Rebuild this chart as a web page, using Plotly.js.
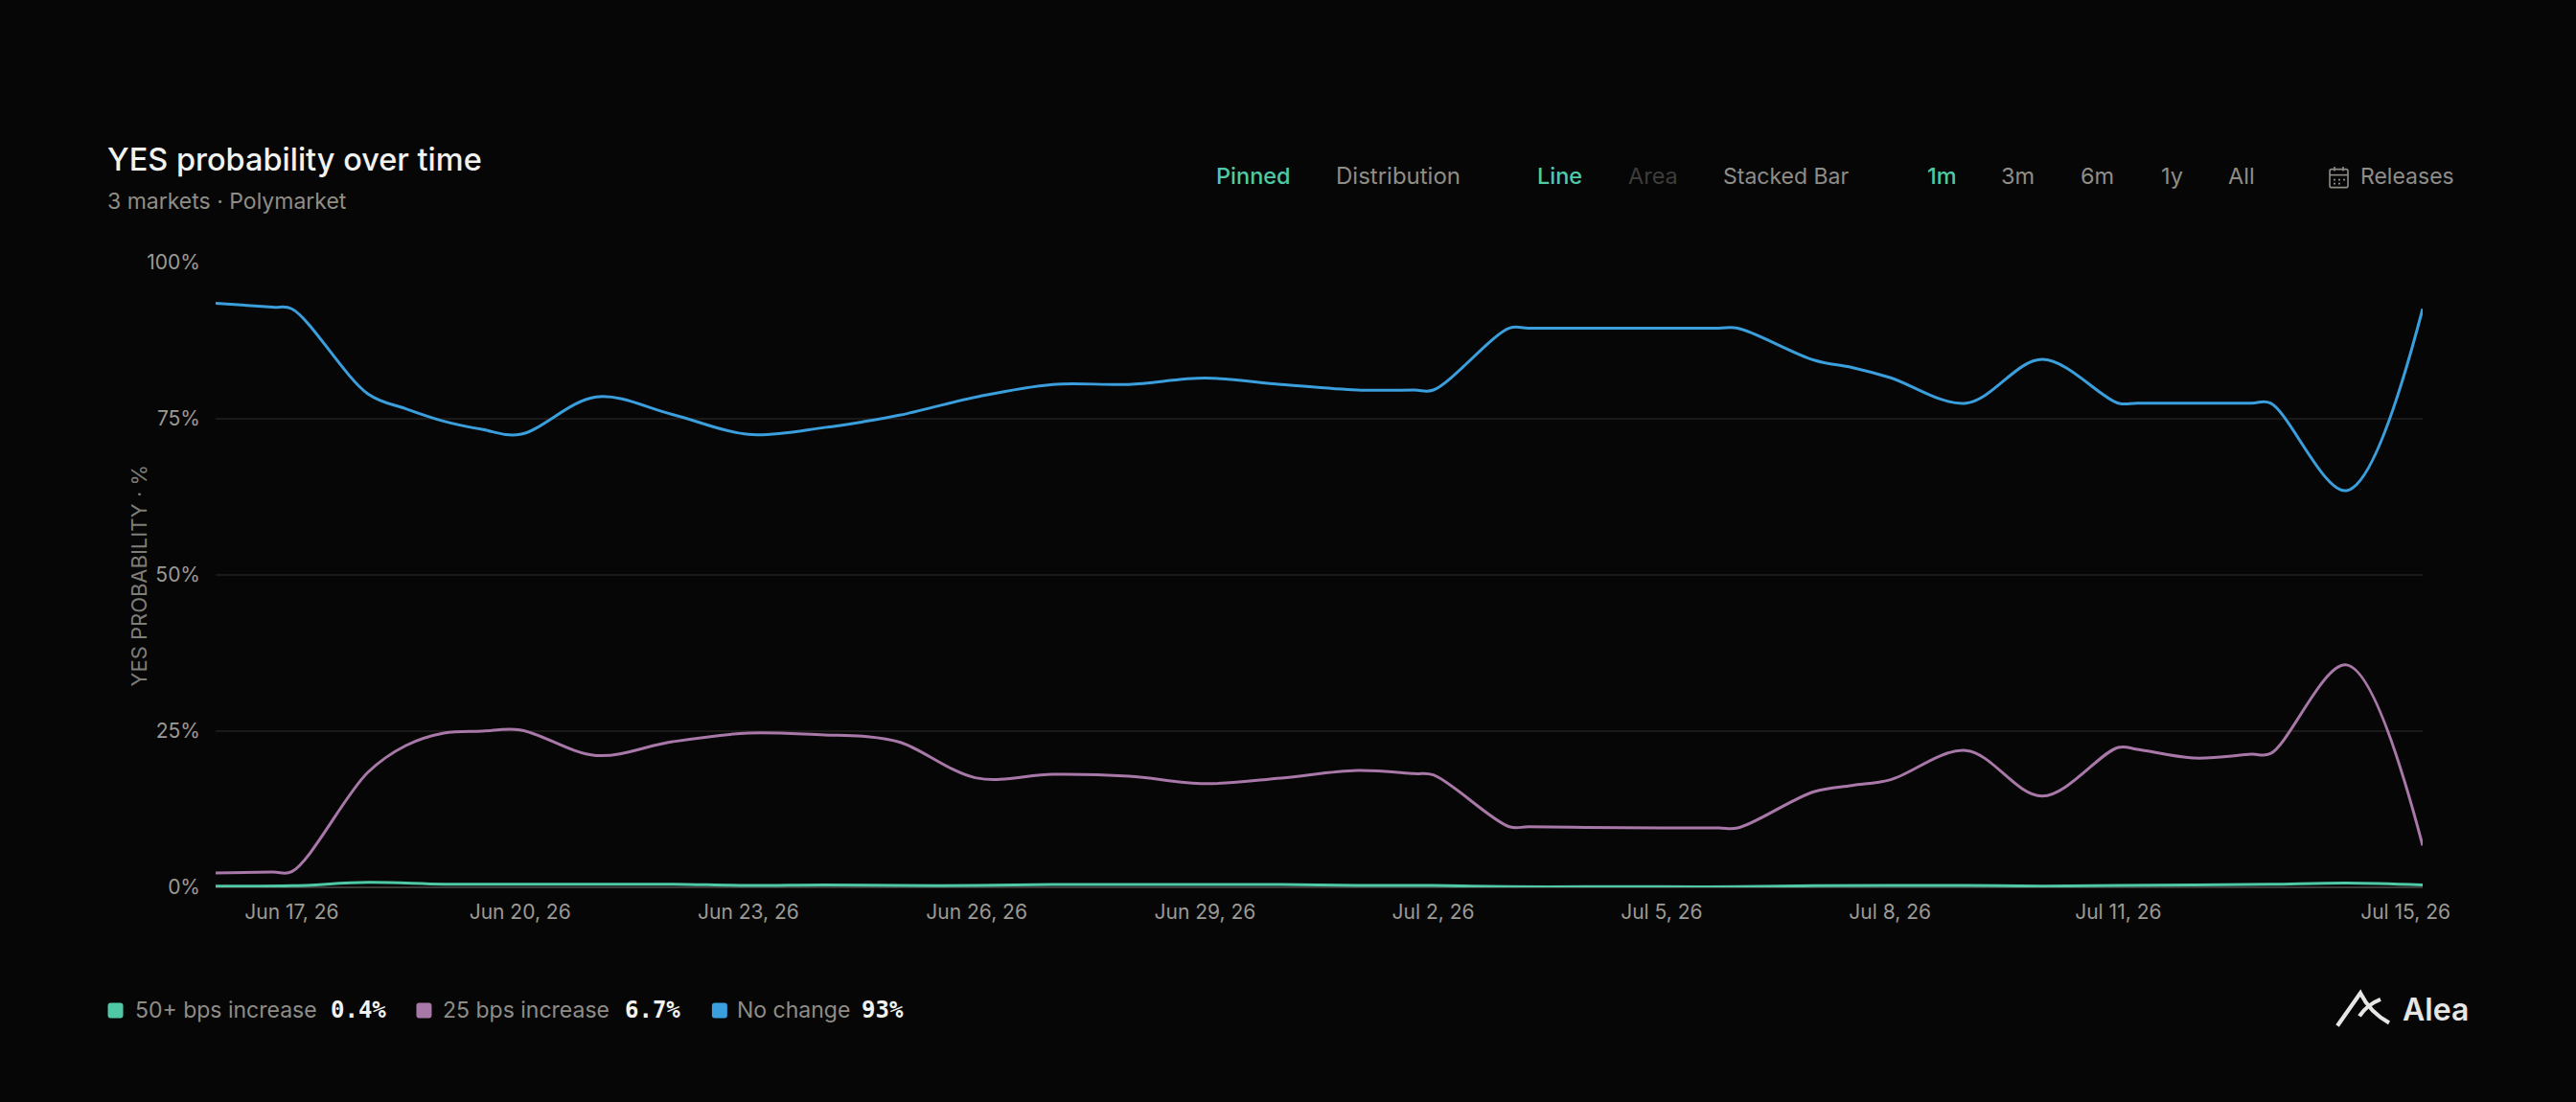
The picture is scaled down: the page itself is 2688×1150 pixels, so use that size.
<!DOCTYPE html>
<html>
<head>
<meta charset="utf-8">
<title>YES probability over time</title>
<script src="https://cdn.plot.ly/plotly-3.0.1.min.js"></script>
<style>
    html, body { margin: 0; padding: 0; background: #060606; overflow: hidden; }
    #chart { width: 2688px; height: 1150px; }
</style>
</head>
<body>
<div id="chart"></div>
<script>
const dates = ['2026-06-16', '2026-06-17', '2026-06-18', '2026-06-19', '2026-06-20', '2026-06-21',
    '2026-06-22', '2026-06-23', '2026-06-24', '2026-06-25', '2026-06-26', '2026-06-27',
    '2026-06-28', '2026-06-29', '2026-06-30', '2026-07-01', '2026-07-02', '2026-07-03',
    '2026-07-04', '2026-07-05', '2026-07-06', '2026-07-07', '2026-07-08', '2026-07-09',
    '2026-07-10', '2026-07-11', '2026-07-12', '2026-07-13', '2026-07-14', '2026-07-15']

// daily points plus a few extra readings on the flat side of the sharp bends
const readDates = ['2026-06-16', '2026-06-16 18:00', '2026-06-17', '2026-06-18', '2026-06-18 12:00',
    '2026-06-19', '2026-06-19 12:00', '2026-06-20', '2026-06-21', '2026-06-22', '2026-06-23',
    '2026-06-24', '2026-06-24 12:00', '2026-06-25', '2026-06-26', '2026-06-27', '2026-06-28',
    '2026-06-29', '2026-06-30', '2026-07-01', '2026-07-01 18:00', '2026-07-02', '2026-07-03',
    '2026-07-03 06:00', '2026-07-04', '2026-07-05', '2026-07-05 18:00', '2026-07-06', '2026-07-07',
    '2026-07-07 12:00', '2026-07-08', '2026-07-09', '2026-07-10', '2026-07-11', '2026-07-11 06:00',
    '2026-07-12', '2026-07-12 18:00', '2026-07-13', '2026-07-14', '2026-07-15']

const noChange = [93.5, 92.85, 92.6, 79, 76.6, 74.6, 73.3, 72.5, 78.5, 75.7,
    72.5, 73.6, 74.5, 75.6, 78.5, 80.5, 80.5, 81.5, 80.5, 79.6,
    79.6, 79.6, 89.5, 89.5, 89.5, 89.5, 89.5, 89.5, 84.4, 83.2,
    81.6, 77.5, 84.5, 77.5, 77.5, 77.5, 77.5, 77.5, 63.5, 92.6]
const bps25 = [2.3, 2.45, 2.5, 18.4, 22.7, 24.7, 25, 25.2, 21.1, 23.3,
    24.7, 24.4, 24.2, 23.2, 17.5, 18.1, 17.8, 16.6, 17.5, 18.7,
    18.2, 18, 9.7, 9.7, 9.6, 9.5, 9.5, 9.5, 15.3, 16.3,
    17.2, 21.9, 14.6, 22.4, 22.1, 20.7, 21.3, 21.4, 35.6, 6.7]
const bps50 = [0.2, 0.25, 0.8, 0.5, 0.5, 0.5, 0.5, 0.3, 0.4, 0.3,
    0.3, 0.45, 0.45, 0.45, 0.45, 0.3, 0.3, 0.1, 0.1, 0.1,
    0.1, 0.25, 0.3, 0.3, 0.2, 0.3, 0.4, 0.5, 0.7, 0.4]

const xTickVals = ['2026-06-17', '2026-06-20', '2026-06-23', '2026-06-26', '2026-06-29',
    '2026-07-02', '2026-07-05', '2026-07-08', '2026-07-11', '2026-07-14 18:36']
const xTickText = ['Jun 17, 26', 'Jun 20, 26', 'Jun 23, 26', 'Jun 26, 26', 'Jun 29, 26',
    'Jul 2, 26', 'Jul 5, 26', 'Jul 8, 26', 'Jul 11, 26', 'Jul 15, 26']
const yTickVals = [0, 25, 50, 75, 100]
const yTickText = ['0%', '25%', '50%', '75%', '100%']

const seriesNames = ['50+ bps increase', '25 bps increase', 'No change']
const seriesLatest = ['0.4%', '6.7%', '93%']

const GREEN = '#4fc9a5'
const PURPLE = '#a878a8'
const BLUE = '#3a9fdc'
const MUTED = '#8f8d87'
const WHITE = '#f2f2f0'
const FONT = 'Inter, sans-serif'
const MONO = 'DejaVu Sans Mono, monospace'

// plot box in page pixels, everything around it is placed relative to this
const W = 2688, H = 1150
const box = {l: 224.5, r: 2528, t: 274.3, b: 925.7}
const px = x => (x - box.l) / (box.r - box.l)
const py = y => (box.b - y) / (box.b - box.t)

window.addEventListener('DOMContentLoaded', () => {
    plotChart()
})

function label(text, x, y, size, color, family, weight) {
    return {
        text: text,
        xref: 'paper',
        yref: 'paper',
        x: px(x),
        y: py(y),
        xanchor: 'left',
        yanchor: 'middle',
        showarrow: false,
        borderpad: 0,
        font: {family: family || FONT, size: size, color: color, weight: weight || 400}
    }
}

function line(name, x, y, color) {
    return {
        type: 'scatter',
        mode: 'lines',
        name: name,
        x: x,
        y: y,
        cliponaxis: false,
        line: {color: color, width: 3, shape: 'spline', smoothing: 1}
    }
}

function pathShape(path, color, width, fill) {
    return {
        type: 'path',
        xref: 'paper',
        yref: 'paper',
        path: path,
        fillcolor: fill || 'rgba(0,0,0,0)',
        line: {color: color, width: width}
    }
}

// path through page pixels, M/L/Q etc. given as [cmd, x, y, ...]
function toPath(cmds) {
    return cmds.map(c => c[0] + c.slice(1).map((v, i) => i % 2 === 0 ? px(v) : py(v)).join(',')).join(' ')
}

function swatch(x, y, size, color) {
    const r = 3, x1 = x + size, y1 = y + size
    return pathShape(toPath([
        ['M', x + r, y], ['L', x1 - r, y], ['Q', x1, y, x1, y + r], ['L', x1, y1 - r],
        ['Q', x1, y1, x1 - r, y1], ['L', x + r, y1], ['Q', x, y1, x, y1 - r], ['L', x, y + r],
        ['Q', x, y, x + r, y]
    ]) + ' Z', color, 0, color)
}

function plotChart() {
    const data = [
        line(seriesNames[2], readDates, noChange, BLUE),
        line(seriesNames[1], readDates, bps25, PURPLE),
        line(seriesNames[0], dates, bps50, GREEN)
    ]

    const annotations = [
        label('YES probability over time', 110, 167, 32.5, WHITE, FONT, 500),
        label('3 markets · Polymarket', 110, 210, 23, MUTED),

        label('Pinned', 1268, 184, 23.5, GREEN, FONT, 500),
        label('Distribution', 1393, 184, 24, MUTED),
        label('Line', 1603, 184, 23.5, GREEN, FONT, 500),
        label('Area', 1698, 184, 23.5, '#3d3c3a'),
        label('Stacked Bar', 1797, 184, 23, MUTED),
        label('1m', 2010, 184, 23.5, GREEN, FONT, 500),
        label('3m', 2087, 184, 23.5, MUTED),
        label('6m', 2170, 184, 23.5, MUTED),
        label('1y', 2254, 184, 23.5, MUTED),
        label('All', 2324, 184, 23.5, MUTED),
        label('Releases', 2462, 184, 23, MUTED),

        label(seriesNames[0], 139.5, 1054, 23, MUTED),
        label(seriesLatest[0], 344, 1054, 24, WHITE, MONO, 700),
        label(seriesNames[1], 461, 1054, 23, MUTED),
        label(seriesLatest[1], 651, 1054, 24, WHITE, MONO, 700),
        label(seriesNames[2], 768, 1054, 23, MUTED),
        label(seriesLatest[2], 898, 1054, 24, WHITE, MONO, 700),

        label('Alea', 2506, 1053, 32, '#e6e6e4', FONT, 600),

        // axis title sits closer to the plot than the axis option can put it
        Object.assign(label('YES PROBABILITY · %', 144, 601, 22, '#7f7d78'), {textangle: -90, xanchor: 'center'})
    ]

    const shapes = [
        swatch(112, 1046, 16, GREEN),
        swatch(434, 1046, 16, PURPLE),
        swatch(742.5, 1046, 16, BLUE),

        // calendar icon next to Releases
        pathShape(toPath([['M', 2433, 177], ['L', 2448, 177], ['Q', 2450, 177, 2450, 179], ['L', 2450, 194],
            ['Q', 2450, 196, 2448, 196], ['L', 2433, 196], ['Q', 2431, 196, 2431, 194], ['L', 2431, 179],
            ['Q', 2431, 177, 2433, 177]]) + ' Z', MUTED, 1.6),
        pathShape(toPath([['M', 2431, 183], ['L', 2450, 183]]), MUTED, 1.6),
        pathShape(toPath([['M', 2436, 174.5], ['L', 2436, 179]]), MUTED, 1.6),
        pathShape(toPath([['M', 2445, 174.5], ['L', 2445, 179]]), MUTED, 1.6),
        pathShape(toPath([['M', 2435, 188], ['L', 2437, 188], ['M', 2440, 188], ['L', 2442, 188], ['M', 2445, 188], ['L', 2447, 188]]), MUTED, 1.6),
        pathShape(toPath([['M', 2435, 192], ['L', 2437, 192], ['M', 2440, 192], ['L', 2442, 192]]), MUTED, 1.6),

        // Alea mark
        pathShape(toPath([['M', 2439, 1070], ['L', 2463, 1036], ['Q', 2473, 1056, 2493, 1067]]), '#e6e6e4', 4.2),
        pathShape(toPath([['M', 2462, 1060], ['Q', 2470, 1048, 2484, 1042.5]]), '#e6e6e4', 4.2)
    ]

    const layout = {
        width: W,
        height: H,
        margin: {l: box.l, r: W - box.r, t: box.t, b: H - box.b, pad: 0},
        paper_bgcolor: '#060606',
        plot_bgcolor: '#060606',
        showlegend: false,
        font: {family: FONT, color: MUTED},
        xaxis: {
            type: 'date',
            range: [dates[0], dates[dates.length - 1]],
            tickmode: 'array',
            tickvals: xTickVals,
            ticktext: xTickText,
            showgrid: false,
            zeroline: false,
            showline: false,
            ticks: '',
            ticklabelstandoff: 11,
            tickfont: {family: FONT, size: 21, color: '#9c9a94'}
        },
        yaxis: {
            range: [0, 100],
            tickmode: 'array',
            tickvals: yTickVals,
            ticktext: yTickText,
            gridcolor: '#1b1a18',
            gridwidth: 2,
            zeroline: true,
            zerolinecolor: '#3a3936',
            zerolinewidth: 2,
            showline: false,
            ticks: '',
            ticklabelstandoff: 15,
            tickfont: {family: FONT, size: 21, color: '#9c9a94'}
        },
        annotations: annotations,
        shapes: shapes
    }

    Plotly.newPlot('chart', data, layout, {displayModeBar: false, responsive: false})
}
</script>
</body>
</html>
